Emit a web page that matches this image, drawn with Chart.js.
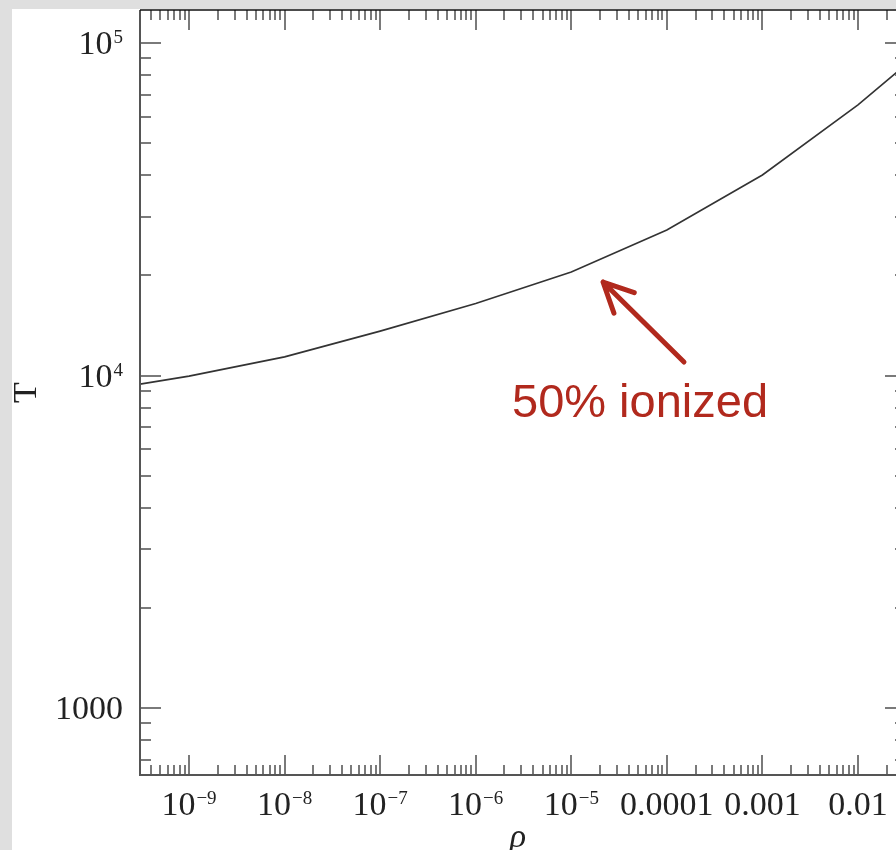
<!DOCTYPE html>
<html>
<head>
<meta charset="utf-8">
<script src="https://cdn.jsdelivr.net/npm/chart.js@4.4.0/dist/chart.umd.min.js"></script>
<style>
  html, body { margin: 0; padding: 0; background: #dfdfdf; overflow: hidden; width: 896px; height: 850px; }
  #sheet { position: absolute; left: 12px; top: 9px; width: 960px; height: 841px; background: #fff; overflow: hidden; }
  canvas { display: block; }
</style>
</head>
<body>
<div id="sheet"><canvas id="chart" width="960" height="841"></canvas></div>
<script>
// 50% ionization line: temperature against density
const rho = [3.07e-10, 1e-9, 1e-8, 1e-7, 1e-6, 1e-5, 1e-4, 1e-3, 1e-2, 2.5e-2, 3.2e-2];
const temperature = [9420, 9960, 11380, 13600, 16460, 20470, 27390, 40100, 65200, 81300, 88000];

const rhoRange = [3.07e-10, 0.0318];
const tempRange = [629, 125700];

const rhoTicks = [1e-9, 1e-8, 1e-7, 1e-6, 1e-5, 1e-4, 1e-3, 1e-2];
const rhoTickLabels = ['10^−9', '10^−8', '10^−7', '10^−6', '10^−5', '0.0001', '0.001', '0.01'];
const tempTicks = [1000, 10000, 100000];
const tempTickLabels = ['1000', '10^4', '10^5'];

const xTitle = 'ρ';
const yTitle = 'T';

// annotation, in data units
const arrowTip = { x: 2.148e-5, y: 19110 };
const arrowTail = { x: 1.511e-4, y: 10980 };
const noteText = '50% ionized';
const notePos = { x: 5.24e-5, y: 7503 };

const RED = '#b1291d';
const LABEL_FONT = '34px "Liberation Serif", "DejaVu Serif", serif';
const SUP_FONT = '19px "Liberation Serif", "DejaVu Serif", serif';

// tick label with an optional ^superscript
function drawLabel(ctx, text, x, y, align) {
  const parts = text.split('^');
  ctx.font = LABEL_FONT;
  const wBase = ctx.measureText(parts[0]).width;
  let wSup = 0;
  if (parts[1]) {
    ctx.font = SUP_FONT;
    wSup = ctx.measureText(parts[1]).width + 1;
  }
  const total = wBase + wSup;
  let x0 = align === 'right' ? x - total : x - total / 2;
  ctx.textAlign = 'left';
  ctx.textBaseline = 'alphabetic';
  ctx.font = LABEL_FONT;
  ctx.fillText(parts[0], x0, y);
  if (parts[1]) {
    ctx.font = SUP_FONT;
    ctx.fillText(parts[1], x0 + wBase + 1, y - 11);
  }
}

// all positions of 1..9 x 10^n inside a range
function logTicks(min, max) {
  const out = [];
  for (let d = Math.floor(Math.log10(min)); d <= Math.ceil(Math.log10(max)); d++) {
    for (let m = 1; m <= 9; m++) {
      const v = m * Math.pow(10, d);
      if (v >= min && v <= max) out.push({ v: v, major: m === 1 });
    }
  }
  return out;
}

const framePlugin = {
  id: 'frame',
  afterDatasetsDraw(chart) {
    const ctx = chart.ctx;
    const a = chart.chartArea;
    const xs = chart.scales.x;
    const ys = chart.scales.y;
    ctx.save();

    // inward ticks on all four sides
    ctx.strokeStyle = '#7a7a7a';
    ctx.lineWidth = 2;
    ctx.beginPath();
    logTicks(rhoRange[0], rhoRange[1]).forEach(t => {
      const px = Math.round(xs.getPixelForValue(t.v));
      const len = t.major ? 20 : 10;
      ctx.moveTo(px, a.bottom); ctx.lineTo(px, a.bottom - len);
      ctx.moveTo(px, a.top); ctx.lineTo(px, a.top + len);
    });
    logTicks(tempRange[0], tempRange[1]).forEach(t => {
      const py = Math.round(ys.getPixelForValue(t.v));
      const len = t.major ? 21 : 11;
      ctx.moveTo(a.left, py); ctx.lineTo(a.left + len, py);
      ctx.moveTo(a.right, py); ctx.lineTo(a.right - len, py);
    });
    ctx.stroke();

    // frame
    ctx.strokeStyle = '#555';
    ctx.lineWidth = 2;
    ctx.beginPath();
    ctx.moveTo(a.left, a.top); ctx.lineTo(a.left, a.bottom); ctx.lineTo(a.right, a.bottom); ctx.lineTo(a.right, a.top);
    ctx.stroke();
    ctx.strokeStyle = '#111';
    ctx.lineWidth = 1.5;
    ctx.beginPath();
    ctx.moveTo(a.left, a.top); ctx.lineTo(a.right, a.top);
    ctx.stroke();

    // tick labels
    ctx.fillStyle = '#222';
    rhoTicks.forEach((v, i) => {
      drawLabel(ctx, rhoTickLabels[i], xs.getPixelForValue(v), a.bottom + 40, 'center');
    });
    tempTicks.forEach((v, i) => {
      drawLabel(ctx, tempTickLabels[i], a.left - 17, ys.getPixelForValue(v) + 11, 'right');
    });

    // axis titles
    ctx.font = 'italic 34px "Liberation Serif", "DejaVu Serif", serif';
    ctx.textAlign = 'center';
    ctx.fillText(xTitle, (a.left + a.right) / 2 - 5, a.bottom + 72);
    ctx.save();
    ctx.translate(24, (a.top + a.bottom) / 2);
    ctx.rotate(-Math.PI / 2);
    ctx.font = '34px "Liberation Serif", "DejaVu Serif", serif';
    ctx.textBaseline = 'alphabetic';
    ctx.fillText(yTitle, 0, 0);
    ctx.restore();

    // annotation arrow
    const tx = xs.getPixelForValue(arrowTip.x), ty = ys.getPixelForValue(arrowTip.y);
    const sx = xs.getPixelForValue(arrowTail.x), sy = ys.getPixelForValue(arrowTail.y);
    const ang = Math.atan2(sy - ty, sx - tx);
    const head = 33, spread = 26 * Math.PI / 180;
    ctx.strokeStyle = RED;
    ctx.lineWidth = 5;
    ctx.lineCap = 'round';
    ctx.lineJoin = 'round';
    ctx.beginPath();
    ctx.moveTo(sx, sy); ctx.lineTo(tx, ty);
    ctx.moveTo(tx + head * Math.cos(ang - spread), ty + head * Math.sin(ang - spread));
    ctx.lineTo(tx, ty);
    ctx.lineTo(tx + head * Math.cos(ang + spread), ty + head * Math.sin(ang + spread));
    ctx.stroke();

    ctx.fillStyle = RED;
    ctx.font = '47px "Liberation Sans", Arial, sans-serif';
    ctx.textAlign = 'center';
    ctx.textBaseline = 'alphabetic';
    ctx.fillText(noteText, xs.getPixelForValue(notePos.x), ys.getPixelForValue(notePos.y));

    ctx.restore();
  }
};

new Chart(document.getElementById('chart'), {
  type: 'scatter',
  data: {
    datasets: [{
      data: rho.map((r, i) => ({ x: r, y: temperature[i] })),
      showLine: true,
      borderColor: '#333',
      borderWidth: 1.6,
      pointRadius: 0,
      tension: 0
    }]
  },
  options: {
    responsive: false,
    animation: false,
    layout: { padding: { left: 128, top: 1, right: 66, bottom: 75 } },
    plugins: { legend: { display: false }, tooltip: { enabled: false } },
    scales: {
      x: { type: 'logarithmic', min: rhoRange[0], max: rhoRange[1], display: false },
      y: { type: 'logarithmic', min: tempRange[0], max: tempRange[1], display: false }
    }
  },
  plugins: [framePlugin]
});
</script>
</body>
</html>
